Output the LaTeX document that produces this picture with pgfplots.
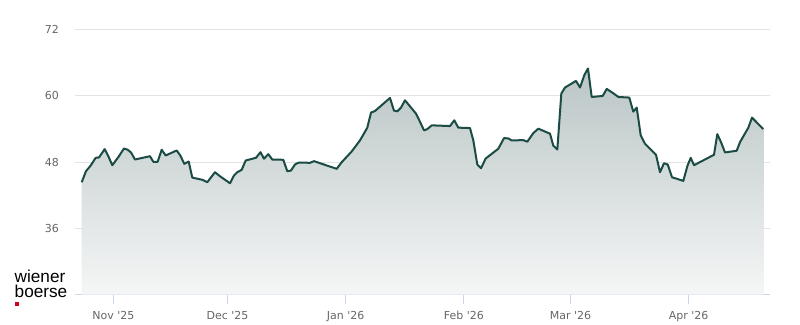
\documentclass[border=0pt]{standalone}
\usepackage{fontspec}
\setmainfont{DejaVu Sans}
\newfontfamily\logofont{Liberation Sans}
\usepackage{pgfplots}
\pgfplotsset{compat=1.18}
\usepackage{pgfplotstable}
\definecolor{lineC}{HTML}{1B4B45}
\definecolor{fillTop}{HTML}{BAC5C5}
\definecolor{fillBot}{HTML}{F5F6F6}
\definecolor{gridC}{HTML}{E3E3E3}
\definecolor{axisC}{HTML}{CCD6EB}
\definecolor{labC}{HTML}{666666}
\definecolor{logoRed}{HTML}{D0021B}
\pgfplotstableread{
d v
-8.29 44.33
-7.17 46.33
-5.93 47.36
-4.62 48.76
-3.75 48.82
-2.26 50.33
-1.39 49.18
-0.26 47.42
1.31 48.87
2.81 50.45
3.78 50.22
4.65 49.73
5.70 48.45
9.63 49.05
10.50 48.04
11.65 48.04
12.70 50.22
13.75 49.18
16.64 50.09
17.59 49.18
18.64 47.67
19.79 48.09
20.73 45.18
23.46 44.76
24.67 44.33
26.69 46.15
28.00 45.42
30.63 44.15
31.68 45.55
32.55 46.15
33.70 46.58
34.75 48.27
37.45 48.76
38.63 49.78
39.55 48.60
40.68 49.42
41.73 48.45
44.62 48.40
45.67 46.33
46.64 46.45
47.69 47.55
48.74 47.91
51.63 47.85
52.68 48.15
58.64 46.76
59.95 47.96
62.57 49.91
64.75 51.91
66.67 54.22
67.64 56.95
68.69 57.24
72.62 59.60
73.67 57.31
74.54 57.18
75.51 57.85
76.56 59.18
79.45 56.76
80.31 55.55
81.55 53.73
82.41 53.96
83.57 54.64
88.37 54.51
89.50 55.55
90.55 54.22
93.62 54.15
94.49 51.91
95.54 47.55
96.51 46.87
97.74 48.64
101.05 50.40
102.55 52.33
103.67 52.27
104.57 51.91
107.61 51.96
108.66 51.67
110.24 53.24
111.55 54.04
114.62 53.13
115.49 50.95
116.54 50.27
117.59 60.40
118.56 61.49
121.44 62.69
122.49 61.49
123.62 63.73
124.59 64.95
125.56 59.78
128.45 59.96
129.50 61.24
131.23 60.45
132.55 59.78
135.43 59.67
136.48 57.13
137.38 57.85
138.43 52.82
139.55 51.31
142.44 49.31
143.49 46.15
144.54 47.78
145.51 47.55
146.64 45.24
149.61 44.58
150.66 47.24
151.55 48.76
152.42 47.42
157.66 49.31
158.53 53.05
159.50 51.60
160.55 49.73
163.62 50.04
164.49 51.60
166.67 54.22
167.64 56.04
170.60 53.96
}\pricedata
\begin{document}
\begin{tikzpicture}[x=1pt,y=1pt]
\path[use as bounding box] (0,0) rectangle (800,324);
\begin{axis}[
  at={(75.3pt,29.5pt)}, anchor=south west,
  scale only axis, width=694.7pt, height=265pt,
  xmin=-9.97, xmax=172.36, ymin=24, ymax=72,
  axis x line*=bottom, axis y line*=left,
  y axis line style={draw=none},
  x axis line style={draw=axisC, line width=1pt},
  xtick={0,30,61,92,120,151},
  xticklabels={Nov \textquotesingle 25,Dec \textquotesingle 25,Jan \textquotesingle 26,Feb \textquotesingle 26,Mar \textquotesingle 26,Apr \textquotesingle 26},
  ytick={36,48,60,72},
  ymajorgrids, grid style={draw=gridC, line width=1pt},
  tick align=outside,
  major tick length=9pt,
  xtick style={draw=axisC, line width=1pt},
  ytick style={draw=none},
  /pgf/number format/assume math mode=true,
  tick label style={font=\fontsize{11}{13}\selectfont, text=labC},
  xticklabel style={yshift=-4pt},
  yticklabel style={xshift=-4pt},
  clip=true,
]
\addplot[draw=none, top color=fillTop, bottom color=fillBot, forget plot] table[x=d,y=v] {\pricedata} -- (axis cs:170.60,24) -- (axis cs:-8.29,24) -- cycle;
\addplot[draw=lineC, line width=2pt, line join=round, mark=none] table[x=d,y=v] {\pricedata};
\end{axis}
\node[anchor=base west, inner sep=0pt, align=left, font=\logofont\fontsize{17.2}{14.7}\selectfont] at (14.5,26.3) {wiener\\boerse};
\fill[logoRed] (15,18.3) rectangle (19.3,22);
\end{tikzpicture}
\end{document}
